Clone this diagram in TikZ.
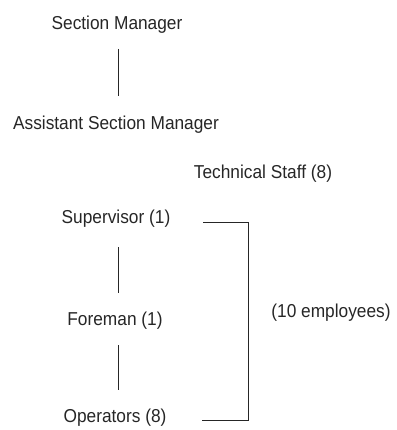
\documentclass[tikz,border=0pt]{standalone}
\usepackage{fontspec}
\setmainfont{Liberation Sans}
\begin{document}
\begin{tikzpicture}[x=1pt,y=-1pt,
  lbl/.style={inner sep=0pt, font=\fontsize{17.3}{20}\selectfont, text=black!85, yscale=1.08},
  conn/.style={line width=1pt, black!85}]
\useasboundingbox (0,0) rectangle (396,430);
\node[lbl] (sm) at (117,25) {Section Manager};
\node[lbl] (asm) at (116,125) {Assistant Section Manager};
\node[lbl] (ts) at (263,174) {Technical Staff (8)};
\node[lbl] (sup) at (116,219) {Supervisor (1)};
\node[lbl] (fore) at (115,321) {Foreman (1)};
\node[lbl] (op) at (115,418) {Operators (8)};
\node[lbl] (emp) at (331,313) {(10 employees)};
\coordinate (c1) at (118,49);
\coordinate (c2) at (118,96);
\draw[conn] (c1) -- (c2);
\coordinate (c3) at (118,247);
\coordinate (c4) at (118,293);
\draw[conn] (c3) -- (c4);
\coordinate (c5) at (118,345);
\coordinate (c6) at (118,390);
\draw[conn] (c5) -- (c6);
\coordinate (bt) at (203,222);
\coordinate (bb) at (202,420);
\draw[conn] (bt) -- (248,222) -- (248,420) -- (bb);
\end{tikzpicture}
\end{document}
